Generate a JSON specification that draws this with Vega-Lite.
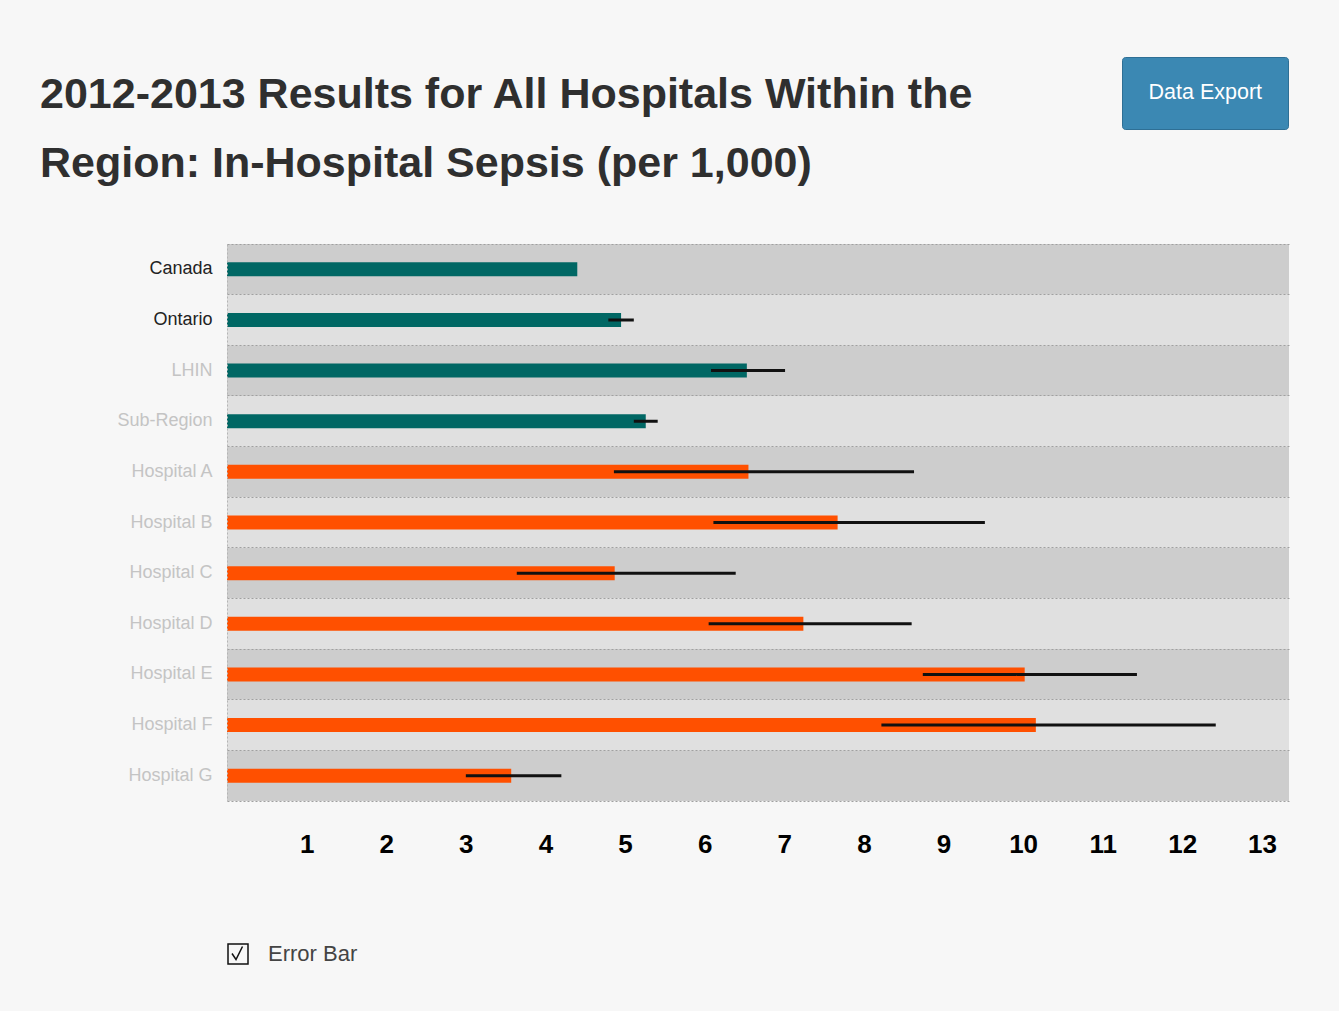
{
  "$schema": "https://vega.github.io/schema/vega-lite/v6.json",
  "width": 1062,
  "height": 557,
  "autosize": {"type": "none"},
  "padding": {"left": 227, "top": 244, "right": 50, "bottom": 210},
  "background": "#f7f7f7",
  "title": {
    "text": ["2012-2013 Results for All Hospitals Within the", "Region: In-Hospital Sepsis (per 1,000)"],
    "anchor": "start",
    "frame": "group",
    "font": "Liberation Sans",
    "fontWeight": "bold",
    "fontSize": 43,
    "color": "#2f2f2f",
    "lineHeight": 69,
    "dx": -187,
    "offset": 0,
    "dy": 129
  },
  "config": {
    "view": {"stroke": null},
    "font": "Liberation Sans"
  },
  "data": {
    "values": [
      {"name": "Canada", "level": "Comparator", "rate": 4.40, "low": null, "high": null},
      {"name": "Ontario", "level": "Comparator", "rate": 4.95, "low": 4.79, "high": 5.11},
      {"name": "LHIN", "level": "Comparator", "rate": 6.53, "low": 6.08, "high": 7.01},
      {"name": "Sub-Region", "level": "Comparator", "rate": 5.26, "low": 5.11, "high": 5.41},
      {"name": "Hospital A", "level": "Hospital", "rate": 6.55, "low": 4.86, "high": 8.63},
      {"name": "Hospital B", "level": "Hospital", "rate": 7.67, "low": 6.11, "high": 9.52},
      {"name": "Hospital C", "level": "Hospital", "rate": 4.87, "low": 3.64, "high": 6.39},
      {"name": "Hospital D", "level": "Hospital", "rate": 7.24, "low": 6.05, "high": 8.60},
      {"name": "Hospital E", "level": "Hospital", "rate": 10.02, "low": 8.74, "high": 11.43},
      {"name": "Hospital F", "level": "Hospital", "rate": 10.16, "low": 8.22, "high": 12.42},
      {"name": "Hospital G", "level": "Hospital", "rate": 3.57, "low": 3.00, "high": 4.20}
    ]
  },
  "encoding": {
    "y": {
      "field": "name",
      "type": "nominal",
      "sort": null,
      "scale": {"paddingInner": 0, "paddingOuter": 0},
      "axis": {
        "title": null,
        "ticks": false,
        "domain": true,
        "domainColor": "#b5b5b5",
        "domainDash": [2, 2],
        "grid": true,
        "gridDash": [2, 2],
        "gridColor": "#a0a0a0",
        "gridWidth": 1,
        "bandPosition": 0,
        "zindex": 1,
        "labelFontSize": 18,
        "labelColor": {"expr": "datum.value == 'Canada' || datum.value == 'Ontario' ? '#222222' : '#c4c4c4'"},
        "labelPadding": 15
      }
    }
  },
  "layer": [
    {
      "transform": [{"window": [{"op": "row_number", "as": "rowNum"}]}],
      "mark": {"type": "rect"},
      "encoding": {
        "fill": {"condition": {"test": "datum.rowNum % 2 == 1", "value": "#cdcdcd"}, "value": "#e0e0e0"}
      }
    },
    {
      "mark": {"type": "bar", "height": 14},
      "encoding": {
        "x": {
          "field": "rate",
          "type": "quantitative",
          "scale": {"domain": [0, 13.34], "nice": false, "zero": true},
          "axis": {
            "title": null,
            "values": [1, 2, 3, 4, 5, 6, 7, 8, 9, 10, 11, 12, 13],
            "ticks": false,
            "grid": false,
            "domain": true,
            "domainDash": [2, 2],
            "domainColor": "#a0a0a0",
            "labelFontWeight": "bold",
            "labelFontSize": 26,
            "labelColor": "#000000",
            "labelPadding": 30,
            "labelFlush": false,
            "labelOverlap": false
          }
        },
        "color": {
          "field": "level",
          "type": "nominal",
          "scale": {"domain": ["Comparator", "Hospital"], "range": ["#006764", "#ff5000"]},
          "legend": null
        }
      }
    },
    {
      "transform": [{"filter": "datum.low != null"}],
      "mark": {"type": "rule", "strokeWidth": 3},
      "encoding": {
        "x": {
          "field": "low",
          "type": "quantitative",
          "axis": {
            "title": null,
            "values": [1, 2, 3, 4, 5, 6, 7, 8, 9, 10, 11, 12, 13],
            "ticks": false,
            "grid": false,
            "domain": true,
            "domainDash": [2, 2],
            "domainColor": "#a0a0a0",
            "labelFontWeight": "bold",
            "labelFontSize": 26,
            "labelColor": "#000000",
            "labelPadding": 30,
            "labelFlush": false,
            "labelOverlap": false
          }
        },
        "x2": {"field": "high"},
        "stroke": {
          "datum": "Error Bar",
          "scale": {"range": ["#111111"]},
          "legend": {
            "title": null,
            "orient": "none",
            "legendX": 0,
            "legendY": 699,
            "symbolType": "M-1,-1H1V1H-1Z M-0.6,-0.05L-0.2,0.55L0.45,-0.75",
            "symbolSize": 400,
            "symbolStrokeWidth": 1.5,
            "symbolFillColor": "transparent",
            "labelFontSize": 22,
            "labelColor": "#444444",
            "labelOffset": 19,
            "padding": 0
          }
        },
        "strokeDash": {
          "datum": "Data Export",
          "scale": {"range": [[1, 0]]},
          "legend": {
            "title": null,
            "orient": "none",
            "legendX": 895,
            "legendY": -187,
            "symbolType": "circle",
            "symbolOpacity": 0,
            "symbolSize": 1,
            "symbolStrokeWidth": 0,
            "labelOffset": -20,
            "labelFontSize": 21.5,
            "labelColor": "#ffffff",
            "fillColor": "#3b88b3",
            "strokeColor": "#2e6f95",
            "cornerRadius": 3,
            "padding": 25
          }
        }
      }
    }
  ]
}
